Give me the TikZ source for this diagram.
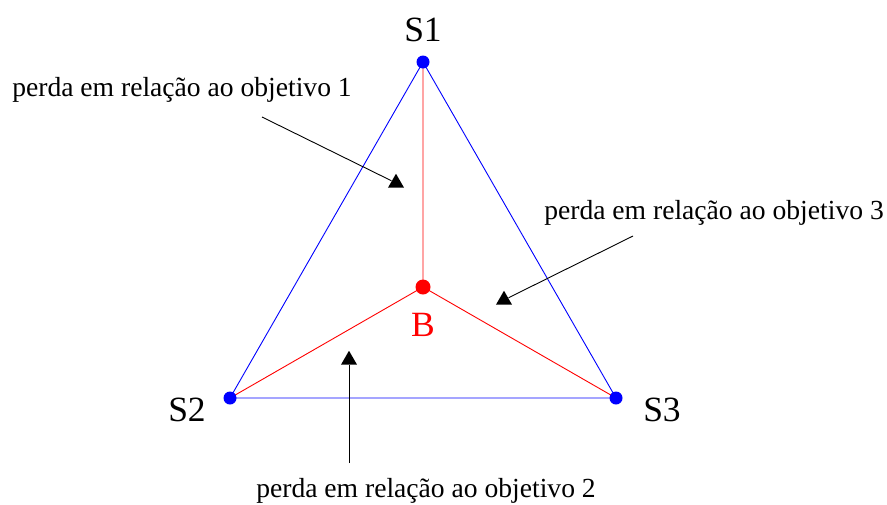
\documentclass[tikz,border=0pt]{standalone}
\usepackage{fontspec}
\setmainfont{Liberation Serif}
\usetikzlibrary{shapes.geometric}

\begin{document}
\begin{tikzpicture}[x=1pt,y=-1pt,line width=0.9pt,
  perda/.style={font=\fontsize{27.6}{30}\selectfont,inner sep=0pt},
  vlabel/.style={font=\fontsize{35.5}{38}\selectfont,inner sep=0pt},
  marca/.style={regular polygon,regular polygon sides=3,fill=black,inner sep=0pt,minimum size=18.5pt}]
  \useasboundingbox (0,0) rectangle (887,504);
  % vertices e ponto B
  \coordinate (S1) at (423,62);
  \coordinate (S2) at (230,398);
  \coordinate (S3) at (616,398);
  \coordinate (B) at (423,287);
  % triangulo e segmentos ate B
  \draw[blue] (S1)--(S2)--(S3)--cycle;
  \draw[red] (B)--(S1) (B)--(S2) (B)--(S3);
  \foreach \p in {S1,S2,S3} \fill[blue] (\p) circle (6.5pt);
  \fill[red] (B) circle (7.5pt);
  % rotulos
  \node[vlabel] (lS1) at (423,30) {S1};
  \node[vlabel] (lS2) at (187,410) {S2};
  \node[vlabel] (lS3) at (662,410) {S3};
  \node[vlabel,red] (lB) at (423,325) {B};
  % perdas
  \node[perda] (txt1) at (182,90) {perda em relação ao objetivo 1};
  \node[perda] (txt3) at (714,213) {perda em relação ao objetivo 3};
  \node[perda] (txt2) at (426,491) {perda em relação ao objetivo 2};
  \node[marca] (m1) at (396,183) {};
  \node[marca] (m3) at (504,300) {};
  \node[marca] (m2) at (349,360) {};
  \coordinate (p1) at (262,117);
  \coordinate (p3) at (633,236);
  \coordinate (p2) at (349,463);
  \draw (p1)--(m1);
  \draw (p3)--(m3);
  \draw (p2)--(m2);
\end{tikzpicture}
\end{document}
